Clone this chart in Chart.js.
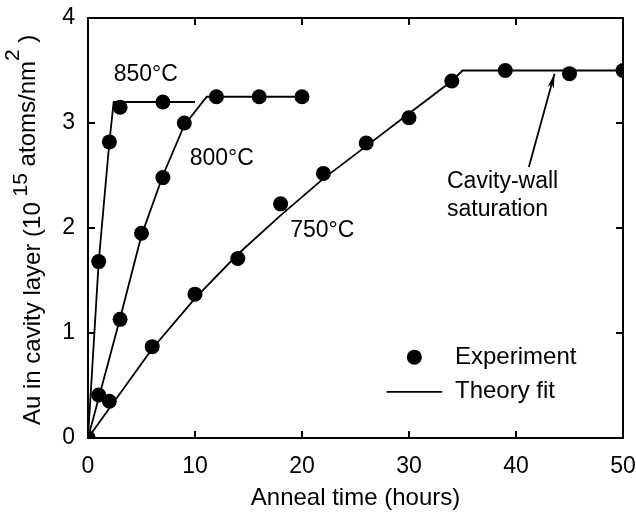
<!DOCTYPE html>
<html>
<head>
<meta charset="utf-8">
<script src="https://cdn.jsdelivr.net/npm/chart.js@4"></script>
<style>
  html, body { margin: 0; padding: 0; background: #fff; }
  #wrap { width: 636px; height: 513px; }
</style>
</head>
<body>
<div id="wrap"><canvas id="auChart"></canvas></div>
<script>
// experiment points
const t850 = [0, 1, 2, 3, 7];
const au850 = [0, 1.68, 2.82, 3.15, 3.2];
const t800 = [0, 1, 3, 5, 7, 9, 12, 16, 20];
const au800 = [0, 0.41, 1.13, 1.95, 2.48, 3.0, 3.25, 3.25, 3.25];
const t750 = [0, 2, 6, 10, 14, 18, 22, 26, 30, 34, 39, 45, 50];
const au750 = [0, 0.35, 0.87, 1.37, 1.71, 2.23, 2.52, 2.81, 3.05, 3.40, 3.50, 3.47, 3.50];

// theory fit curves
const fitT850 = [0, 1, 2, 2.4, 10];
const fit850 = [0, 1.68, 2.82, 3.2, 3.2];
const fitT800 = [0, 3, 5, 7, 9, 11.1, 20];
const fit800 = [0, 1.14, 1.93, 2.5, 2.98, 3.25, 3.25];
const fitT750 = [0, 6, 10, 14, 18, 22, 26, 30, 34, 35, 50];
const fit750 = [0, 0.85, 1.33, 1.75, 2.12, 2.47, 2.78, 3.09, 3.4, 3.5, 3.5];

const xTicks = [0, 10, 20, 30, 40, 50];
const yTicks = [0, 1, 2, 3, 4];

// text labels, placed in data units
const curveLabels = [
    { text: '850°C', x: 5.4, y: 3.46 },
    { text: '800°C', x: 12.5, y: 2.66 },
    { text: '750°C', x: 21.9, y: 1.97 }
];

const FONT = '"Liberation Sans", Arial, sans-serif';
const FS = 23;
const FT = 24;

function pts(xs, ys) {
    return xs.map((x, i) => ({ x: x, y: ys[i] }));
}

const fitStyle = {
    showLine: true,
    borderColor: '#000',
    borderWidth: 1.8,
    pointRadius: 0,
    fill: false,
    tension: 0
};
const dotStyle = {
    showLine: false,
    pointRadius: 7.5,
    pointBackgroundColor: '#000',
    pointBorderColor: '#000',
    pointBorderWidth: 0
};

const decorations = {
    id: 'decorations',
    afterDraw(chart) {
        const ctx = chart.ctx;
        const xs = chart.scales.x;
        const ys = chart.scales.y;
        const a = chart.chartArea;
        const px = v => xs.getPixelForValue(v);
        const py = v => ys.getPixelForValue(v);

        ctx.save();
        ctx.strokeStyle = '#000';
        ctx.fillStyle = '#000';

        // frame
        ctx.lineWidth = 2;
        ctx.strokeRect(a.left, a.top, a.right - a.left, a.bottom - a.top);

        // inward ticks on all four sides
        const tl = 7;
        ctx.beginPath();
        xTicks.forEach(v => {
            const x = px(v);
            ctx.moveTo(x, a.bottom); ctx.lineTo(x, a.bottom - tl);
            ctx.moveTo(x, a.top); ctx.lineTo(x, a.top + tl);
        });
        yTicks.forEach(v => {
            const y = py(v);
            ctx.moveTo(a.left, y); ctx.lineTo(a.left + tl, y);
            ctx.moveTo(a.right, y); ctx.lineTo(a.right - tl, y);
        });
        ctx.stroke();

        // curve labels
        ctx.font = FS + 'px ' + FONT;
        ctx.textAlign = 'center';
        ctx.textBaseline = 'middle';
        curveLabels.forEach(l => ctx.fillText(l.text, px(l.x), py(l.y)));

        // saturation note + arrow
        ctx.textAlign = 'left';
        ctx.fillText('Cavity-wall', px(33.55), py(2.44));
        ctx.fillText('saturation', px(33.55), py(2.17));
        const x0 = px(41.2), y0 = py(2.58), x1 = px(43.6), y1 = py(3.47);
        ctx.lineWidth = 1.8;
        ctx.beginPath();
        ctx.moveTo(x0, y0); ctx.lineTo(x1, y1);
        ctx.stroke();
        const ang = Math.atan2(y1 - y0, x1 - x0);
        const hl = 15, hw = 0.22;
        ctx.beginPath();
        ctx.moveTo(x1, y1);
        ctx.lineTo(x1 - hl * Math.cos(ang - hw), y1 - hl * Math.sin(ang - hw));
        ctx.lineTo(x1 - hl * 0.7 * Math.cos(ang), y1 - hl * 0.7 * Math.sin(ang));
        ctx.lineTo(x1 - hl * Math.cos(ang + hw), y1 - hl * Math.sin(ang + hw));
        ctx.closePath();
        ctx.fill();

        // legend
        ctx.font = FT + 'px ' + FONT;
        ctx.beginPath();
        ctx.arc(px(30.5), py(0.77), 7.5, 0, Math.PI * 2);
        ctx.fill();
        ctx.fillText('Experiment', px(34.3), py(0.77));
        ctx.lineWidth = 1.8;
        ctx.beginPath();
        ctx.moveTo(px(27.9), py(0.44)); ctx.lineTo(px(33.1), py(0.44));
        ctx.stroke();
        ctx.fillText('Theory fit', px(34.3), py(0.44));

        // y axis title with superscripts
        ctx.translate(40, py(0) - 13);
        ctx.rotate(-Math.PI / 2);
        ctx.textBaseline = 'alphabetic';
        let cx = 0;
        const parts = [
            { s: 'Au in cavity layer (10', size: FT, up: 0 },
            { s: ' 15', size: 21, up: 13 },
            { s: ' atoms/nm', size: FT, up: 5 },
            { s: '2', size: 21, up: 21 },
            { s: ' )', size: FT, up: 5 }
        ];
        parts.forEach(p => {
            ctx.font = p.size + 'px ' + FONT;
            ctx.fillText(p.s, cx, -p.up);
            cx += ctx.measureText(p.s).width;
        });
        ctx.restore();
    }
};

const ctx = document.getElementById('auChart').getContext('2d');
const chart = new Chart(ctx, {
    type: 'scatter',
    data: {
        datasets: [
            Object.assign({ label: '850 fit', data: pts(fitT850, fit850) }, fitStyle),
            Object.assign({ label: '800 fit', data: pts(fitT800, fit800) }, fitStyle),
            Object.assign({ label: '750 fit', data: pts(fitT750, fit750) }, fitStyle),
            Object.assign({ label: '850', data: pts(t850, au850) }, dotStyle),
            Object.assign({ label: '800', data: pts(t800, au800) }, dotStyle),
            Object.assign({ label: '750', data: pts(t750, au750) }, dotStyle)
        ]
    },
    options: {
        responsive: true,
        maintainAspectRatio: false,
        animation: false,
        events: [],
        layout: { padding: { top: 18, right: 13, left: 0, bottom: 0 } },
        plugins: { legend: { display: false }, tooltip: { enabled: false } },
        scales: {
            x: {
                type: 'linear',
                min: 0,
                max: 50,
                afterFit: s => { s.height = 75; s.paddingLeft = 0; s.paddingRight = 0; },
                grid: { display: false, drawTicks: false },
                border: { display: false },
                ticks: {
                    stepSize: 10,
                    padding: 15,
                    color: '#000',
                    maxRotation: 0,
                    font: { family: FONT, size: FS }
                },
                title: {
                    display: true,
                    text: 'Anneal time (hours)',
                    color: '#000',
                    padding: { top: 0, bottom: 0 },
                    font: { family: FONT, size: FT }
                }
            },
            y: {
                type: 'linear',
                min: 0,
                max: 4,
                afterFit: s => { s.width = 88; s.paddingTop = 0; s.paddingBottom = 0; },
                grid: { display: false, drawTicks: false },
                border: { display: false },
                ticks: {
                    stepSize: 1,
                    padding: 13,
                    color: '#000',
                    font: { family: FONT, size: FS }
                }
            }
        }
    },
    plugins: [decorations]
});
</script>
</body>
</html>
